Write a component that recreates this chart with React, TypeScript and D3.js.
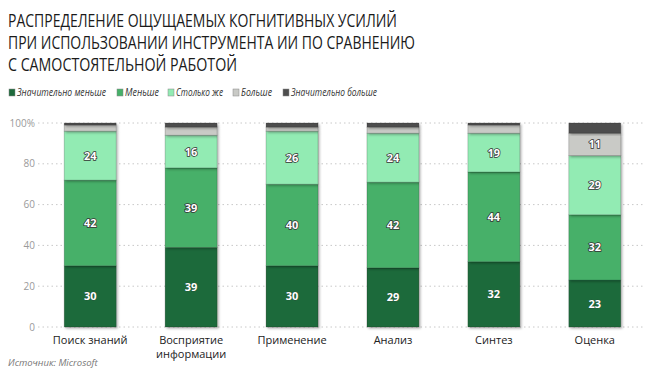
import React from "react";
import * as d3 from "d3";

const categories = ["Поиск знаний", "Восприятие\nинформации", "Применение", "Анализ", "Синтез", "Оценка"];
const seriesNames = ["Значительно меньше", "Меньше", "Столько же", "Больше", "Значительно больше"];
const much_less = [30, 39, 30, 29, 32, 23];
const less = [42, 39, 40, 42, 44, 32];
const same = [24, 16, 26, 24, 19, 29];
const more = [3, 4, 2, 3, 4, 11];
const much_more = [1, 2, 2, 2, 1, 5];
const labelFlags = [
  [true, true, true, true, true, true],
  [true, true, true, true, true, true],
  [true, true, true, true, true, true],
  [false, false, false, false, false, true],
  [false, false, false, false, false, false],
];
const yTicks = [0, 20, 40, 60, 80, 100];
const titleLines = [
  "РАСПРЕДЕЛЕНИЕ ОЩУЩАЕМЫХ КОГНИТИВНЫХ УСИЛИЙ",
  "ПРИ ИСПОЛЬЗОВАНИИ ИНСТРУМЕНТА ИИ ПО СРАВНЕНИЮ",
  "С САМОСТОЯТЕЛЬНОЙ РАБОТОЙ",
];
const colors = ["#1e6a3b", "#46b069", "#92ebb3", "#c9cac6", "#4e4e4e"];

export default function App() {
  const W = 659, H = 379;
  const series = [much_less, less, same, more, much_more];
  const rows = categories.map((c, i) => {
    const o: any = { cat: c };
    seriesNames.forEach((s, j) => (o[s] = series[j][i]));
    return o;
  });
  const stacked = d3.stack<any>().keys(seriesNames)(rows);
  const x = d3.scaleBand().domain(categories).range([40, 645]).paddingInner(0.485).paddingOuter(0.24);
  const y = d3.scaleLinear().domain([0, 100]).range([327, 123]);
  const font = "'Open Sans', 'DejaVu Sans', sans-serif";

  const legendX = [9, 117, 168, 233, 283];
  const legendW = [89, 34, 47, 31, 86];
  const titleW = [389, 407, 229];

  return (
    <svg width={W} height={H} style={{ position: "absolute", left: 0, top: 0 }} fontFamily={font}>
      <defs>
        <filter id="sh" x="-10%" y="-10%" width="130%" height="130%">
          <feDropShadow dx="1.5" dy="1.5" stdDeviation="1" floodColor="#000" floodOpacity="0.3" />
        </filter>
      </defs>
      <rect width={W} height={H} fill="#fff" />
      {titleLines.map((t, i) => (
        <text
          key={i}
          x={8}
          y={27 + i * 22}
          fontSize={18}
          fill="#1a1a1a"
          textLength={titleW[i]}
          lengthAdjust="spacingAndGlyphs"
        >
          {t}
        </text>
      ))}
      {seriesNames.map((s, i) => (
        <g key={s}>
          <rect x={legendX[i]} y={89} width={6} height={7} fill={colors[i]} stroke="#888" strokeWidth={0.5} />
          <text
            x={legendX[i] + 8}
            y={96}
            fontSize={10}
            fontStyle="italic"
            fill="#333"
            textLength={legendW[i]}
            lengthAdjust="spacingAndGlyphs"
          >
            {s}
          </text>
        </g>
      ))}
      {yTicks.map((t) => (
        <g key={t}>
          <line x1={38} x2={643} y1={y(t)} y2={y(t)} stroke="#c8c8c8" strokeDasharray="1.5,3" strokeWidth={1} />
          <text x={35} y={y(t) + 3.5} textAnchor="end" fontSize={10} fill="#9a9a9a">
            {t === 100 ? "100%" : t}
          </text>
        </g>
      ))}
      {stacked.map((s, si) => (
        <g key={s.key} filter="url(#sh)">
          {s.map((d, i) => (
            <rect
              key={i}
              x={x(categories[i])}
              width={x.bandwidth()}
              y={y(d[1])}
              height={y(d[0]) - y(d[1])}
              fill={colors[si]}
              stroke="rgba(0,0,0,0.22)"
              strokeWidth={0.8}
            />
          ))}
        </g>
      ))}
      {stacked.map((s, si) =>
        s.map((d, i) =>
          labelFlags[si][i] ? (
            <text
              key={s.key + i}
              x={(x(categories[i]) as number) + x.bandwidth() / 2}
              y={(y(d[0]) + y(d[1])) / 2 + 4}
              textAnchor="middle"
              fontSize={11}
              fontWeight="bold"
              fill="#fff"
              stroke="#333"
              strokeWidth={si === 0 ? 0.4 : 1.5}
              paintOrder="stroke"
            >
              {series[si][i]}
            </text>
          ) : null
        )
      )}
      {categories.map((c) => (
        <text key={c} x={(x(c) as number) + x.bandwidth() / 2} y={344} textAnchor="middle" fontSize={11} fill="#222">
          {c.split("\n").map((l, k) => (
            <tspan key={k} x={(x(c) as number) + x.bandwidth() / 2} dy={k === 0 ? 0 : 14}>
              {l}
            </tspan>
          ))}
        </text>
      ))}
      <text x={8} y={366} fontSize={9.5} fontStyle="italic" fill="#777">
        Источник: Microsoft
      </text>
    </svg>
  );
}
